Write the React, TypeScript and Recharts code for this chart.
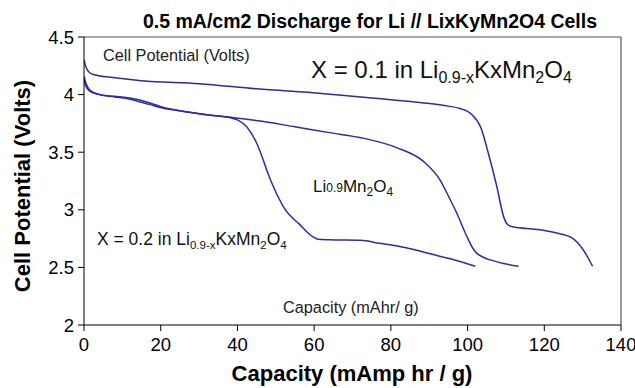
import React from "react";
import { LineChart, Line, XAxis, YAxis, ReferenceLine } from "recharts";

// X = 0.1 in Li(0.9-x)KxMn2O4
const capA = [0, 0.5, 1.5, 3, 7, 15, 30, 45, 62, 75, 88, 95, 98, 101, 103.5, 105.5, 107.5, 109.5, 110.5, 112, 118, 123, 127.5, 130, 132.6];
const voltA = [4.3, 4.24, 4.19, 4.17, 4.15, 4.12, 4.095, 4.05, 4.01, 3.97, 3.93, 3.9, 3.88, 3.83, 3.71, 3.48, 3.22, 2.93, 2.87, 2.85, 2.83, 2.8, 2.75, 2.66, 2.51];

// Li0.9Mn2O4
const capB = [0, 0.5, 1.5, 4, 8, 12, 17, 21, 25, 33, 39, 46, 55, 64, 73, 81.5, 88.5, 92.8, 95, 97.2, 99.8, 101.5, 102.5, 107.5, 113.3];
const voltB = [4.13, 4.07, 4.03, 4.0, 3.98, 3.96, 3.915, 3.88, 3.86, 3.82, 3.8, 3.77, 3.72, 3.67, 3.62, 3.54, 3.42, 3.26, 3.12, 2.97, 2.77, 2.66, 2.62, 2.55, 2.51];

// X = 0.2 in Li(0.9-x)KxMn2O4
const capC = [0, 0.5, 1.5, 4, 8, 12, 17, 21, 25, 33, 38, 40, 42.4, 45, 48.5, 50.5, 52.5, 56, 59.5, 61, 64, 72, 77, 84, 90, 96, 102];
const voltC = [4.16, 4.1, 4.04, 4.0, 3.985, 3.97, 3.93, 3.885, 3.86, 3.82, 3.8, 3.78, 3.72, 3.58, 3.27, 3.12, 3.0, 2.88, 2.77, 2.745, 2.74, 2.735, 2.71, 2.67, 2.62, 2.57, 2.51];

const xTicks = [0, 20, 40, 60, 80, 100, 120, 140];
const yTicks = [2, 2.5, 3, 3.5, 4, 4.5];

const toRows = (caps: number[], volts: number[]) => caps.map((c, i) => ({ cap: c, v: volts[i] }));
const dataA = toRows(capA, voltA);
const dataB = toRows(capB, voltB);
const dataC = toRows(capC, voltC);

const LINE = "#2c2ca0";
const FONT = "'Liberation Sans', Arial, sans-serif";

export default function App() {
  return (
    <div style={{ position: "absolute", left: 0, top: 0, width: 635, height: 388, background: "#fff" }}>
      <LineChart width={635} height={388} margin={{ top: 37, right: 14, left: 0, bottom: 0 }}>
        <XAxis
          type="number"
          dataKey="cap"
          domain={[0, 140]}
          ticks={xTicks}
          allowDataOverflow
          height={63}
          tickSize={6}
          tickMargin={7}
          stroke="#000"
          tick={{ fill: "#000", fontSize: 18.5, fontFamily: FONT }}
        />
        <YAxis
          type="number"
          dataKey="v"
          domain={[2, 4.5]}
          ticks={yTicks}
          allowDataOverflow
          width={84}
          tickSize={6}
          tickMargin={4}
          stroke="#000"
          tick={{ fill: "#000", fontSize: 18.5, fontFamily: FONT }}
        />
        <ReferenceLine y={4.5} stroke="#555" />
        <ReferenceLine x={140} stroke="#777" strokeWidth={1.5} />
        <Line data={dataA} dataKey="v" type="monotone" stroke={LINE} strokeWidth={1.5} dot={false} isAnimationActive={false} />
        <Line data={dataB} dataKey="v" type="monotone" stroke={LINE} strokeWidth={1.5} dot={false} isAnimationActive={false} />
        <Line data={dataC} dataKey="v" type="monotone" stroke={LINE} strokeWidth={1.5} dot={false} isAnimationActive={false} />
      </LineChart>
      <svg width={635} height={388} style={{ position: "absolute", left: 0, top: 0, pointerEvents: "none" }} fontFamily={FONT}>
        <text x={370} y={28} textAnchor="middle" fontSize={19.5} fontWeight="bold" fill="#000">
          0.5 mA/cm2 Discharge for Li // LixKyMn2O4 Cells
        </text>
        <text x={22} y={186} textAnchor="middle" fontSize={22} fontWeight="bold" fill="#000" transform="rotate(-90 22 186) translate(0 8)">
          Cell Potential (Volts)
        </text>
        <text x={352} y={381} textAnchor="middle" fontSize={22} fontWeight="bold" fill="#000">
          Capacity (mAmp hr / g)
        </text>
        <text x={103} y={61} fontSize={16.3} fill="#222">Cell Potential (Volts)</text>
        <text x={283} y={313} fontSize={16.3} fill="#222">Capacity (mAhr/ g)</text>
        <text x={311} y={78} fontSize={24} fill="#111">
          X = 0.1 in Li<tspan fontSize={16} dy={5}>0.9-x</tspan>
          <tspan dy={-5}>KxMn</tspan>
          <tspan fontSize={16} dy={5}>2</tspan>
          <tspan dy={-5}>O</tspan>
          <tspan fontSize={16} dy={5}>4</tspan>
        </text>
        <text x={313} y={192} fontSize={17} fill="#111">
          Li<tspan fontSize={12}>0.9</tspan>Mn<tspan fontSize={12} dy={4}>2</tspan>
          <tspan dy={-4}>O</tspan>
          <tspan fontSize={12} dy={4}>4</tspan>
        </text>
        <text x={97} y={245} fontSize={17.5} fill="#111">
          X = 0.2 in Li<tspan fontSize={11.5} dy={4}>0.9-x</tspan>
          <tspan dy={-4}>KxMn</tspan>
          <tspan fontSize={11.5} dy={4}>2</tspan>
          <tspan dy={-4}>O</tspan>
          <tspan fontSize={11.5} dy={4}>4</tspan>
        </text>
      </svg>
    </div>
  );
}
